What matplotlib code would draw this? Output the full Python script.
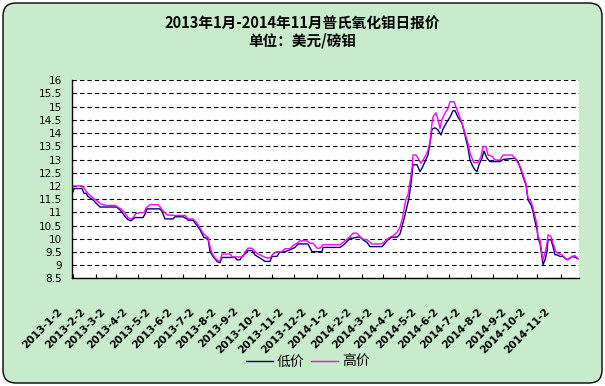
import matplotlib
matplotlib.use("Agg")
import numpy as np
import matplotlib.pyplot as plt
from matplotlib.patches import FancyBboxPatch
from matplotlib.transforms import ScaledTranslation

plt.rcParams['font.family'] = ['Noto Sans CJK SC', 'DejaVu Sans']

# trading-day index (from 2013-1-2) and price
low_day = [0, 2, 10, 12, 14, 16, 21, 24, 28, 44, 46, 49, 53, 56, 59, 63, 71, 73, 75, 88,
           90, 93, 101, 103, 111, 115, 116, 121, 125, 128, 132, 136, 138, 141, 145, 148,
           150, 163, 165, 168, 170, 173, 176, 180, 183, 188, 193, 198, 200, 205, 208, 213,
           218, 223, 226, 236, 240, 250, 251, 268, 271, 275, 278, 281, 285, 288, 291, 295,
           298, 310, 313, 316, 320, 325, 328, 330, 333, 335, 337, 339, 341, 345, 348, 350,
           353, 356, 358, 360, 363, 366, 369, 371, 375, 378, 381, 383, 386, 390, 393, 396,
           398, 400, 403, 405, 407, 410, 412, 415, 418, 428, 431, 443, 446, 449, 451, 454,
           456, 459, 461, 463, 465, 466, 468, 470, 471, 473, 475, 476, 479, 481, 483, 485,
           488, 491, 495, 498, 501, 506]
low_price = [11.66, 11.9, 11.9, 11.72, 11.72, 11.6, 11.47, 11.35, 11.2, 11.2, 11.16, 11.05,
             10.84, 10.72, 10.68, 10.8, 10.8, 10.93, 11.13, 11.13,
             11.03, 10.75, 10.75, 10.83, 10.83, 10.75, 10.7, 10.7, 10.5, 10.34, 10.04, 10.02,
             9.51, 9.33, 9.14, 9.09,
             9.29, 9.29, 9.2, 9.2, 9.33, 9.42, 9.55, 9.55, 9.38, 9.27, 9.14, 9.14, 9.33, 9.33,
             9.51, 9.51,
             9.58, 9.67, 9.8, 9.8, 9.51, 9.51, 9.67, 9.67, 9.75, 9.89, 10.02, 10.02, 10.06,
             10.06, 9.96, 9.86,
             9.7, 9.7, 9.83, 9.96, 10.06, 10.06, 10.18, 10.46, 10.9, 11.22, 11.54, 12.1,
             12.8, 12.8, 12.54, 12.67,
             12.92, 13.17, 13.62, 14.15, 14.2, 14.12, 13.93, 14.15, 14.43, 14.6, 14.85, 14.85,
             14.6, 14.37, 13.93, 13.43,
             12.98, 12.8, 12.6, 12.54, 12.8, 13.05, 13.32, 13.05, 12.92, 12.92, 13.0, 13.05,
             12.92, 12.6, 12.35, 12.04,
             11.47, 11.28, 11.03, 10.65, 10.36, 10.02, 9.83, 9.27, 9.02, 9.2, 9.51, 9.96,
             9.96, 9.7, 9.39, 9.39,
             9.33, 9.33, 9.2, 9.27, 9.33, 9.24]

high_day = [0, 2, 10, 12, 14, 16, 21, 26, 29, 34, 43, 46, 49, 53, 56, 59, 61, 64, 68, 72,
            74, 78, 86, 89, 90, 95, 103, 113, 116, 121, 125, 128, 131, 136, 138, 140, 143,
            146, 148, 150, 158, 160, 171, 173, 176, 180, 183, 186, 191, 195, 198, 201, 205,
            210, 213, 218, 221, 225, 228, 235, 238, 241, 245, 248, 251, 268, 271, 275, 278,
            281, 285, 288, 291, 295, 300, 308, 311, 315, 318, 321, 325, 328, 330, 331, 334,
            336, 338, 340, 341, 344, 346, 349, 351, 355, 356, 358, 360, 361, 364, 366, 368,
            370, 373, 376, 378, 382, 385, 388, 390, 393, 396, 398, 400, 402, 406, 409, 411,
            414, 416, 420, 423, 428, 431, 440, 443, 446, 449, 451, 454, 456, 459, 461, 463,
            465, 466, 468, 470, 471, 473, 475, 476, 479, 481, 484, 486, 490, 493, 496, 500,
            503, 506]
high_price = [11.88, 12.0, 12.0, 11.92, 11.8, 11.72, 11.54, 11.41, 11.31, 11.26, 11.26,
              11.19, 11.13, 10.97, 10.8, 10.74, 10.8, 10.95, 10.99, 10.99,
              11.16, 11.29, 11.29, 11.16, 11.09, 10.9, 10.88, 10.88, 10.75, 10.75, 10.59,
              10.4, 10.21, 10.04, 9.7, 9.45, 9.27,
              9.16, 9.16, 9.42, 9.42, 9.31, 9.31, 9.5, 9.64, 9.64, 9.51, 9.42, 9.33, 9.27,
              9.27, 9.42, 9.51,
              9.51, 9.62, 9.62, 9.74, 9.83, 9.92, 9.92, 9.83, 9.83, 9.64, 9.64, 9.77, 9.77,
              9.86, 9.98, 10.08,
              10.21, 10.21, 10.08, 9.98, 9.96, 9.8, 9.8, 9.83, 9.98, 10.06, 10.11, 10.24,
              10.44, 10.71, 10.9, 11.5,
              11.66, 12.16, 12.67, 13.17, 13.17, 13.05, 12.86, 12.98, 13.24, 13.36, 13.68,
              14.37, 14.62, 14.77, 14.52, 14.18,
              14.52, 14.75, 14.94, 15.19, 15.19, 14.88, 14.56, 14.37, 14.0, 13.62, 13.24,
              13.05, 12.88, 12.88, 13.11, 13.49,
              13.49, 13.17, 13.12, 12.98, 12.98, 13.17, 13.17, 13.05, 12.86, 12.67, 12.42,
              12.1, 11.54, 11.41, 11.16, 10.84,
              10.53, 10.08, 9.96, 9.39, 9.2, 9.45, 9.83, 10.15, 10.08, 9.83, 9.51, 9.45,
              9.39, 9.27, 9.2, 9.33,
              9.36, 9.24]

month_start_day = [1, 24, 44, 66, 89, 111, 133, 155, 177, 200, 222, 245, 267, 290, 311,
                   333, 355, 377, 399, 421, 445, 465, 489]
month_labels = [f"2013-{m}-2" for m in range(1, 13)] + [f"2014-{m}-2" for m in range(1, 12)]
n_days = 507

GREEN = "#C8ECCB"
NAVY = "#000080"
MAGENTA = "#FF00FF"

fig = plt.figure(figsize=(6.05, 3.86), dpi=100, facecolor="white")
frame = FancyBboxPatch((0.03, 0.03), 5.99, 3.80,
                       boxstyle="round,pad=0,rounding_size=0.13",
                       transform=fig.dpi_scale_trans,
                       facecolor=GREEN, edgecolor="black", linewidth=1.0, zorder=-10)
fig.patches.append(frame)

ax = fig.add_axes([72 / 605, 1 - 278.3 / 386, 507 / 605, 198 / 386])
ax.set_zorder(1)
ax.set_facecolor("white")

ax.plot(low_day, low_price, color=NAVY, lw=1.0, label="低价")
ax.plot(high_day, high_price, color=MAGENTA, lw=1.0, label="高价")

ax.set_xlim(0, n_days)
ax.set_ylim(8.5, 16)
yt = np.arange(8.5, 16.01, 0.5)
ax.set_yticks(yt)
ax.set_yticklabels([f"{v:g}" for v in yt], fontsize=7.5, family="DejaVu Sans")
ax.yaxis.grid(True, color="black", lw=0.8, linestyle=(0, (4, 2.7)))
ax.set_axisbelow(True)
ax.tick_params(axis="y", length=0, pad=7)

ax.set_xticks(month_start_day)
ax.set_xticklabels(month_labels, rotation=45, ha="right", va="top",
                   fontsize=7.5, fontweight="bold", family="DejaVu Sans")
ax.tick_params(axis="x", direction="in", length=3, width=0.8, pad=20)
shift = ScaledTranslation(-9 / 100, 0, fig.dpi_scale_trans)
for lab in ax.get_xticklabels():
    lab.set_transform(lab.get_transform() + shift)

for side in ("top", "right"):
    ax.spines[side].set_visible(False)
for side in ("left", "bottom"):
    ax.spines[side].set_color("black")
    ax.spines[side].set_linewidth(1.0)

fig.text(0.5, 1 - 23 / 386, "2013年1月-2014年11月普氏氧化钼日报价",
         ha="center", va="center", fontsize=10.5, fontweight="bold")
fig.text(0.5, 1 - 41 / 386, "单位：美元/磅钼",
         ha="center", va="center", fontsize=10.5, fontweight="bold")

fig.legend(loc="center", bbox_to_anchor=(0.509, 1 - 362 / 386), ncol=2, frameon=False,
           fontsize=10, handlelength=1.9, handletextpad=0.3, columnspacing=0.5)

fig.savefig("out.png", dpi=100, facecolor=fig.get_facecolor())
